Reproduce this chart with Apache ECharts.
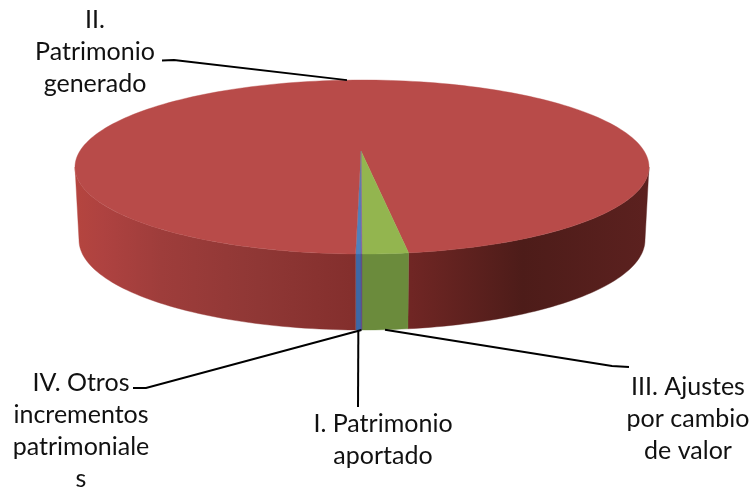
<!DOCTYPE html>
<html><head><meta charset="utf-8">
<style>html,body{margin:0;padding:0;background:#fff}#c{width:755px;height:494px}</style>
<script src="https://cdn.jsdelivr.net/npm/echarts@6/dist/echarts.min.js"></script>
</head><body><div id="c"></div>
<script>
// Data (percent of total), in the chart's clockwise order
const categories = ['I. Patrimonio aportado','II. Patrimonio generado','III. Ajustes por cambio de valor','IV. Otros incrementos patrimoniales'];
const shares = [0.3, 97.05, 2.6, 0.05];
const labelLines = [['I. Patrimonio','aportado'],['II.','Patrimonio','generado'],['III. Ajustes','por cambio','de valor'],['IV. Otros','incrementos','patrimoniale','s']];
const topColors = ['#4f81bd','#b84b49','#93b54f','#7d60a0'];
const wallColors = ['#3d68a6',null,'#6b8b3c','#5f4880'];

// Layout of the tilted disc
const FIRST_BEARING = 180.2;
const topE = {cx:362, cy:167, rx:287, ry:87};
const botE = {cx:362, cy:240, rx:283, ry:90};
const apex = [361, 151];
const labelBox = [
  {x:383, y:408, elbow:[[358,407]], side:'wall'},
  {x:95, y:4, elbow:[[174,60],[162,60.5]], side:'top'},
  {x:688, y:371, elbow:[[612,366],[629,367]], side:'wall'},
  {x:81, y:367, elbow:[[146,388],[133,388]], side:'wall'}
];

function pt(e, deg){const a=deg*Math.PI/180;return [e.cx+e.rx*Math.sin(a), e.cy-e.ry*Math.cos(a)];}
function arc(e,a,b){const out=[];const n=Math.max(2,Math.ceil(Math.abs(b-a)/1.5));for(let i=0;i<=n;i++)out.push(pt(e,a+(b-a)*i/n));return out;}
const redWall = new echarts.graphic.LinearGradient(75,0,649,0,[
  {offset:0,color:'#b5453f'},{offset:0.05,color:'#ae4240'},{offset:0.15,color:'#9e3d3b'},{offset:0.32,color:'#8f3735'},
  {offset:0.48,color:'#842f2d'},{offset:0.585,color:'#702624'},{offset:0.78,color:'#4d1c19'},{offset:1,color:'#5c211f'}],true);

const starts=[];let acc=FIRST_BEARING;
shares.forEach(v=>{starts.push(acc);acc+=v*3.6;});

function renderItem(params, api){
  const i=params.dataIndex, v=api.value(0);
  const a=starts[i], b=a+v*3.6, kids=[];
  const wallFill=wallColors[i]||redWall;
  [[90,270],[450,630]].forEach(([lo,hi])=>{
    const s=Math.max(a,lo), e=Math.min(b,hi);
    if(e<=s)return;
    const points=arc(topE,s,e).concat(arc(botE,s,e).reverse());
    kids.push({type:'polygon',shape:{points},style:{fill:wallFill,stroke:wallFill,lineWidth:0.4}});
  });
  const points=[apex].concat(arc(topE,a,b));
  kids.push({type:'polygon',shape:{points},style:{fill:topColors[i],stroke:topColors[i],lineWidth:0.4}});
  return {type:'group',children:kids};
}
function renderLabels(params, api){
  const i=params.dataIndex, v=api.value(0);
  const mid=starts[i]+v*1.8, box=labelBox[i];
  const anchor=box.side==='top'?pt(topE,357):pt(botE,mid);
  const pts=[anchor].concat(box.elbow);
  return {type:'group',children:[
    {type:'polyline',z2:5,shape:{points:pts},style:{fill:'none',stroke:'#000',lineWidth:2}},
    {type:'text',z2:5,style:{x:box.x,y:box.y,text:labelLines[i].join('\n'),align:'center',verticalAlign:'top',
      fill:'#111',font:'25px Lato',lineHeight:32}}
  ]};
}
const rows=shares.map((v,i)=>({name:categories[i],value:[v]}));
const chart=echarts.init(document.getElementById('c'),null,{renderer:'canvas'});
chart.setOption({
  animation:false,
  backgroundColor:'#fff',
  xAxis:{show:false},yAxis:{show:false},
  series:[
    {type:'custom',coordinateSystem:'none',renderItem,data:rows,silent:true},
    {type:'custom',coordinateSystem:'none',renderItem:renderLabels,data:rows,silent:true,z:5}
  ]
});
</script></body></html>
